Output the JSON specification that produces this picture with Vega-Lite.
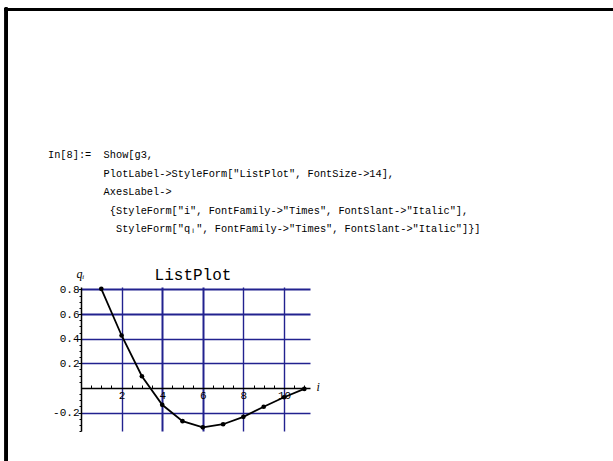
{
  "$schema": "https://vega.github.io/schema/vega-lite/v6.json",
  "width": 229,
  "height": 144,
  "autosize": {"type": "none"},
  "padding": {"left": 81, "top": 287, "right": 303, "bottom": 30},
  "background": "white",
  "config": {"view": {"stroke": null}},
  "title": {
    "text": [
      "In[8]:=\u00a0\u00a0Show[g3,",
      "\u200b\u00a0\u00a0\u00a0\u00a0\u00a0\u00a0\u00a0\u00a0\u00a0PlotLabel->StyleForm[\"ListPlot\", FontSize->14],",
      "\u200b\u00a0\u00a0\u00a0\u00a0\u00a0\u00a0\u00a0\u00a0\u00a0AxesLabel->",
      "\u200b\u00a0\u00a0\u00a0\u00a0\u00a0\u00a0\u00a0\u00a0\u00a0\u00a0{StyleForm[\"i\", FontFamily->\"Times\", FontSlant->\"Italic\"],",
      "\u200b\u00a0\u00a0\u00a0\u00a0\u00a0\u00a0\u00a0\u00a0\u00a0\u00a0\u00a0StyleForm[\"q\u1d62\", FontFamily->\"Times\", FontSlant->\"Italic\"]}]"
    ],
    "anchor": "start",
    "frame": "group",
    "dx": -33,
    "offset": -228,
    "font": "Liberation Mono",
    "fontSize": 10.3,
    "fontWeight": "normal",
    "lineHeight": 18.5,
    "color": "black"
  },
  "data": {
    "values": [
      {"i": 1, "q": 0.805},
      {"i": 2, "q": 0.426},
      {"i": 3, "q": 0.095},
      {"i": 4, "q": -0.137},
      {"i": 5, "q": -0.27},
      {"i": 6, "q": -0.32},
      {"i": 7, "q": -0.295},
      {"i": 8, "q": -0.235},
      {"i": 9, "q": -0.153},
      {"i": 10, "q": -0.076},
      {"i": 11, "q": -0.008}
    ]
  },
  "layer": [
    {
      "mark": {"type": "line", "color": "black", "strokeWidth": 1.8, "point": {"filled": true, "color": "black", "size": 22}},
      "encoding": {
        "x": {
          "field": "i", "type": "quantitative",
          "scale": {"domain": [0, 11.28], "nice": false, "zero": false},
          "axis": {
            "orient": "bottom", "offset": -43, "values": [2, 4, 6, 8, 10],
            "grid": true, "gridColor": "#22228f",
            "gridWidth": {"condition": {"test": "datum.value == 4 || datum.value == 6", "value": 2}, "value": 1.4},
            "ticks": false, "domainColor": "black", "domainWidth": 1.5,
            "labelFont": "Liberation Mono", "labelFontSize": 11, "labelColor": "black", "labelPadding": 1,
            "labelFlush": false, "labelOverlap": false,
            "title": "i", "titleFont": "Liberation Serif", "titleFontStyle": "italic", "titleFontWeight": "normal",
            "titleFontSize": 12, "titleAngle": 0, "titleAlign": "left", "titleBaseline": "middle",
            "titleX": 235, "titleY": -2, "titleColor": "black"
          }
        },
        "y": {
          "field": "q", "type": "quantitative",
          "scale": {"domain": [-0.35, 0.82], "nice": false, "zero": false},
          "axis": {
            "orient": "left", "values": [-0.2, 0.2, 0.4, 0.6, 0.8],
            "grid": true, "gridColor": "#22228f",
            "gridWidth": {"condition": {"test": "datum.value == 0.8 || datum.value == 0.6", "value": 2}, "value": 1.4},
            "ticks": true, "tickSize": 3, "tickColor": "black",
            "domainColor": "black", "domainWidth": 1.5,
            "labelFont": "Liberation Mono", "labelFontSize": 11, "labelColor": "black", "labelPadding": -1,
            "labelFlush": false, "labelOverlap": false,
            "labelExpr": "datum.value < 0 ? '-' + format(-datum.value, '.1f') : format(datum.value, '.1f')",
            "title": "q\u1d62", "titleFont": "Liberation Serif", "titleFontStyle": "italic", "titleFontWeight": "normal",
            "titleFontSize": 12, "titleAngle": 0, "titleAlign": "center", "titleBaseline": "middle",
            "titleX": -1, "titleY": -14, "titleColor": "black"
          }
        }
      }
    },
    {
      "mark": {"type": "point", "opacity": 0},
      "encoding": {
        "x": {
          "field": "i", "type": "quantitative",
          "scale": {"domain": [0, 11.28], "nice": false, "zero": false},
          "axis": {
            "orient": "top", "offset": -101,
            "values": [0.5, 1, 1.5, 2.5, 3, 3.5, 4.5, 5, 5.5, 6.5, 7, 7.5, 8.5, 9, 9.5, 10.5, 11],
            "labels": false, "domain": false, "grid": false, "ticks": true, "tickSize": 3, "tickColor": "black", "title": null
          }
        },
        "y": {
          "field": "q", "type": "quantitative",
          "scale": {"domain": [-0.35, 0.82], "nice": false, "zero": false},
          "axis": {
            "orient": "left",
            "values": [-0.35, -0.3, -0.25, -0.15, -0.1, -0.05, 0.05, 0.1, 0.15, 0.25, 0.3, 0.35, 0.45, 0.5, 0.55, 0.65, 0.7, 0.75],
            "labels": false, "domain": false, "grid": false, "ticks": true, "tickSize": 2, "tickColor": "black", "title": null
          }
        }
      }
    },
    {
      "mark": {"type": "point", "opacity": 0},
      "encoding": {
        "x": {
          "field": "i", "type": "quantitative",
          "scale": {"domain": [0, 11.28], "nice": false, "zero": false},
          "axis": {
            "orient": "top", "labels": false, "domain": false, "grid": false, "ticks": false,
            "title": "ListPlot", "titleFont": "Liberation Mono", "titleFontSize": 16, "titleFontWeight": "normal",
            "titleColor": "black", "titleX": 111.5, "titleY": -8, "titleBaseline": "alphabetic", "titleAlign": "center"
          }
        },
        "y": {
          "field": "q", "type": "quantitative",
          "scale": {"domain": [-0.35, 0.82], "nice": false, "zero": false},
          "axis": null
        }
      }
    },
    {
      "mark": {"type": "rule", "color": "black", "strokeWidth": 2.6},
      "encoding": {
        "y": {"datum": 3.077, "type": "quantitative", "scale": {"domain": [-0.35, 0.82], "nice": false, "zero": false}, "axis": null},
        "x": {"datum": -3.758, "type": "quantitative", "scale": {"domain": [0, 11.28], "nice": false, "zero": false}, "axis": null},
        "x2": {"datum": 26.5}
      }
    },
    {
      "mark": {"type": "rule", "color": "black", "strokeWidth": 2.6},
      "encoding": {
        "x": {"datum": -3.689, "type": "quantitative", "scale": {"domain": [0, 11.28], "nice": false, "zero": false}, "axis": null},
        "y": {"datum": 3.088, "type": "quantitative", "scale": {"domain": [-0.35, 0.82], "nice": false, "zero": false}, "axis": null},
        "y2": {"datum": -0.667}
      }
    }
  ],
  "resolve": {"axis": {"x": "independent", "y": "independent"}}
}
